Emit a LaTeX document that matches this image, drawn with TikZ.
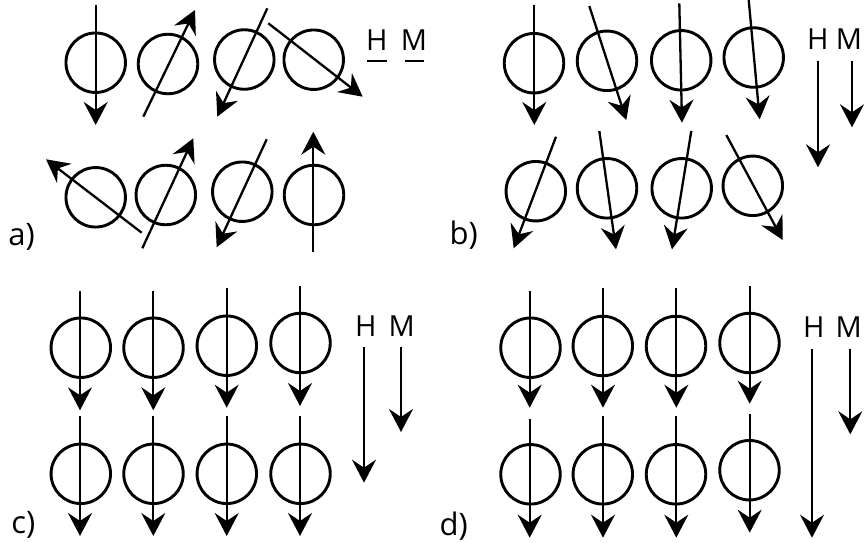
\documentclass[tikz,border=0pt]{standalone}
\usepackage{fontspec}
\setmainfont{Open Sans}
\usetikzlibrary{arrows.meta}
\tikzset{
  particle/.style={circle,draw,line width=2.9pt,minimum size=59.5pt,inner sep=0pt},
  moment/.style={-{Stealth[length=23pt,width=24pt,inset=8pt]},line width=2.3pt},
  field/.style={font=\fontsize{29}{29}\selectfont,inner sep=0pt},
  panel/.style={font=\fontsize{31}{31}\selectfont,inner sep=0pt}
}
\begin{document}
\begin{tikzpicture}[x=1pt,y=-1pt]
  \useasboundingbox (0,0) rectangle (864,542);

  % a) random orientation
  \foreach \cx/\cy/\sx/\sy/\tx/\ty [count=\i] in {
      95.7/62.7/95.7/5/95.7/125, 168/64/143.3/116.7/195/10,
      244.3/59.5/267.3/8.3/217.3/116.7, 313.7/59.7/268.3/23.3/362.7/96.7,
      95.7/197.3/141.7/232.7/46/159.3, 165.8/195/142.3/248.3/193.3/138.3,
      242.3/191.7/266.7/139.3/216.7/247.3, 314/195/313.3/251.7/313.3/131.7} {
    \node[particle] (a\i) at (\cx,\cy) {};
    \draw[moment] (\sx,\sy) -- (\tx,\ty);
  }
  \node[field] (aH) at (376.7,40) {H};
  \node[field] (aM) at (414,40) {M};
  \draw[line width=2.3pt] (367,60.7) -- (387,60.7) (405,60.7) -- (424,60.7);
  \node[panel] (la) at (21.7,237) {a)};

  % b) weak field
  \foreach \cx/\cy/\sx/\sy/\tx/\ty [count=\i] in {
      534/63.2/534.3/5/534.3/125, 607/60.8/589.3/6/626.3/120,
      681.2/60.3/679.3/3.3/682/122.7, 753.7/57.5/748.7/0/759.7/119.3,
      535.8/191.2/556/136.7/513.7/248.3, 607/188.3/599.3/131/616/249.3,
      681.7/188.3/691.3/131/672/249.3, 752.8/185.8/726.3/135/782.7/240} {
    \node[particle] (b\i) at (\cx,\cy) {};
    \draw[moment] (\sx,\sy) -- (\tx,\ty);
  }
  \node[field] (bH) at (817.7,39.3) {H};
  \node[field] (bM) at (849,39.3) {M};
  \draw[moment] (818,60.7) -- (818,167.3);
  \draw[moment] (852,60.7) -- (852,127.3);
  \node[panel] (lb) at (463.7,235) {b)};

  % c) saturation
  \foreach \cx/\cy/\ax/\sy/\ty [count=\i] in {
      80.8/347.7/80/291/410.3, 153.5/347.7/153.3/291/410.3,
      226.8/345.7/226.7/288.3/407.7, 300.5/343/300/286/406,
      80.8/473.8/80/416/536, 153.5/473.8/153.3/416/536,
      226.8/473.8/226.7/416/536, 300.5/473.8/300/416/536} {
    \node[particle] (c\i) at (\cx,\cy) {};
    \draw[moment] (\ax,\sy) -- (\ax,\ty);
  }
  \node[field] (cH) at (365.7,326) {H};
  \node[field] (cM) at (401.7,326) {M};
  \draw[moment] (364,347) -- (364,482.7);
  \draw[moment] (401,347) -- (401,432);
  \node[panel] (lc) at (23.3,525) {c)};

  % d) field beyond saturation
  \foreach \cx/\cy/\ax/\sy/\ty [count=\i] in {
      530.5/347.7/529.7/291/407.7, 602.8/346/603/288.3/407.7,
      676/346/676.3/288.3/407.7, 749.5/343/749.7/286/403.7,
      530.5/474.3/529.7/419.3/537.7, 602.8/474.3/603/416/537.7,
      676/474.3/676.3/416/537.7, 749.5/470.2/749.7/413.7/532.7} {
    \node[particle] (d\i) at (\cx,\cy) {};
    \draw[moment] (\ax,\sy) -- (\ax,\ty);
  }
  \node[field] (dH) at (813.7,327) {H};
  \node[field] (dM) at (848.7,327) {M};
  \draw[moment] (812,349.3) -- (812,537.7);
  \draw[moment] (850.3,349.3) -- (850.3,434.3);
  \node[panel] (ld) at (453.7,526) {d)};
\end{tikzpicture}
\end{document}
